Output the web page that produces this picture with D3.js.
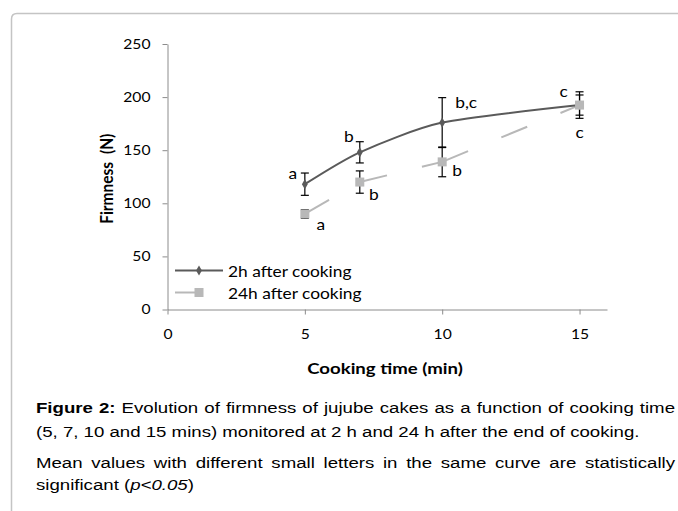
<!DOCTYPE html>
<html>
<head>
<meta charset="utf-8">
<script src="https://cdn.jsdelivr.net/npm/d3@7"></script>
<style>
  body { margin: 0; background: #fff; }
  svg { display: block; }
  .tick text { font-family: Lato, "Open Sans", sans-serif; font-size: 14px; fill: #000; }
  .lbl { font-family: Lato, "Open Sans", sans-serif; font-size: 15.5px; fill: #000; }
  .cap { font-family: "Liberation Sans", Arial, sans-serif; font-size: 14px; fill: #000; }
</style>
</head>
<body>
<script>
var times = [5, 7, 10, 15];
var firm2h = [118, 148, 176, 192.5];
var err2h = [10.5, 10, 23.5, 12.5];
var firm24h = [90, 120, 139, 192.5];
var err24h = [4, 10.5, 14, 9.5];
var letters2h = ["a", "b", "b,c", "c"];
var letters24h = ["a", "b", "b", "c"];
var xTicks = [0, 5, 10, 15];
var yTicks = [0, 50, 100, 150, 200, 250];
var seriesNames = ["2h after cooking", "24h after cooking"];

var width = 678,
    height = 511,
    sx = 1.12; // the chart text in the figure is a little stretched sideways

var svg = d3.select("body").append("svg")
    .attr("width", width)
    .attr("height", height);

// move x/y into a transform so that the glyphs can be widened in place
function stretch(sel, k) {
  sel.each(function() {
    var t = d3.select(this);
    var tx = +t.attr("x") || 0, ty = +t.attr("y") || 0;
    var rot = t.attr("data-rot");
    t.attr("x", 0).attr("y", 0)
      .attr("transform", "translate(" + tx + "," + ty + ")" + (rot ? " rotate(" + rot + ")" : "") +
            (rot ? " scale(1," + (k || sx) + ")" : " scale(" + (k || sx) + ",1)"));
  });
}

// frame, cut off on the right and at the bottom
svg.append("path")
    .attr("d", "M11.5,520 V19 Q11.5,13.5 17,13.5 H690")
    .attr("fill", "none")
    .attr("stroke", "#c4c4c4")
    .attr("stroke-width", 1.5);

var x = d3.scaleLinear().domain([0, 16]).range([167.5, 607]);
var y = d3.scaleLinear().domain([0, 250]).range([309.5, 44]);

var xAxis = svg.append("g")
    .attr("transform", "translate(0," + y(0) + ")")
    .call(d3.axisBottom(x).tickValues(xTicks).tickSize(5).tickPadding(15).tickSizeOuter(0));
var yAxis = svg.append("g")
    .attr("transform", "translate(" + x(0) + ",0)")
    .call(d3.axisLeft(y).tickValues(yTicks).tickSize(5).tickPadding(12).tickSizeOuter(0));
svg.selectAll(".domain, .tick line").attr("stroke", "#8c8c8c");
stretch(svg.selectAll(".tick text"));

svg.append("text")
    .attr("class", "lbl")
    .attr("x", 113)
    .attr("y", (y(0) + y(250)) / 2 + 2)
    .attr("data-rot", -90)
    .attr("text-anchor", "middle")
    .attr("word-spacing", 4)
    .style("font-weight", "bold")
    .text("Firmness (N)");

var pts2h = times.map(function(t, i) { return {t: t, v: firm2h[i], e: err2h[i], l: letters2h[i]}; });
var pts24h = times.map(function(t, i) { return {t: t, v: firm24h[i], e: err24h[i], l: letters24h[i]}; });

var c2h = "#5a5a5a", c24h = "#b8b8b8";

// 24h: straight segments, dash pattern restarting at each point
svg.append("g").selectAll("line")
    .data(d3.pairs(pts24h))
  .enter().append("line")
    .attr("x1", function(d) { return x(d[0].t); })
    .attr("y1", function(d) { return y(d[0].v); })
    .attr("x2", function(d) { return x(d[1].t); })
    .attr("y2", function(d) { return y(d[1].v); })
    .attr("stroke", c24h)
    .attr("stroke-width", 2)
    .attr("stroke-dasharray", "28,36");

// 2h: smoothed line
svg.append("path")
    .datum(pts2h)
    .attr("fill", "none")
    .attr("stroke", c2h)
    .attr("stroke-width", 2)
    .attr("d", d3.line()
        .x(function(d) { return x(d.t); })
        .y(function(d) { return y(d.v); })
        .curve(d3.curveCardinal.tension(0.3)));

// error bars
function errorBars(data) {
  var g = svg.append("g").attr("stroke", "#000").attr("stroke-width", 1.2);
  g.selectAll(".v").data(data).enter().append("line")
      .attr("x1", function(d) { return x(d.t); })
      .attr("x2", function(d) { return x(d.t); })
      .attr("y1", function(d) { return y(d.v - d.e); })
      .attr("y2", function(d) { return y(d.v + d.e); });
  [-1, 1].forEach(function(s) {
    g.selectAll(".c" + s).data(data).enter().append("line")
        .attr("x1", function(d) { return x(d.t) - 4; })
        .attr("x2", function(d) { return x(d.t) + 4; })
        .attr("y1", function(d) { return y(d.v + s * d.e); })
        .attr("y2", function(d) { return y(d.v + s * d.e); });
  });
}
errorBars(pts2h);
errorBars(pts24h);

var diamond = d3.symbol().type(d3.symbolDiamond).size(30);
svg.append("g").selectAll("path")
    .data(pts2h)
  .enter().append("path")
    .attr("transform", function(d) { return "translate(" + x(d.t) + "," + y(d.v) + ")"; })
    .attr("d", diamond)
    .attr("fill", c2h);

svg.append("g").selectAll("rect")
    .data(pts24h)
  .enter().append("rect")
    .attr("x", function(d) { return x(d.t) - 4.5; })
    .attr("y", function(d) { return y(d.v) - 4.5; })
    .attr("width", 9)
    .attr("height", 9)
    .attr("fill", c24h);

// significance letters
var off2h = [[-12, -5], [-11, -10], [13, -15], [-16, -8]];
var off24h = [[16, 16], [14, 18], [15, 14], [0, 33]];
svg.append("g").selectAll("text")
    .data(pts2h)
  .enter().append("text")
    .attr("class", "lbl")
    .attr("x", function(d, i) { return x(d.t) + off2h[i][0]; })
    .attr("y", function(d, i) { return y(d.v) + off2h[i][1]; })
    .attr("text-anchor", function(d, i) { return i === 2 ? "start" : "middle"; })
    .text(function(d) { return d.l; });
svg.append("g").selectAll("text")
    .data(pts24h)
  .enter().append("text")
    .attr("class", "lbl")
    .attr("x", function(d, i) { return x(d.t) + off24h[i][0]; })
    .attr("y", function(d, i) { return y(d.v) + off24h[i][1]; })
    .attr("text-anchor", "middle")
    .text(function(d) { return d.l; });

// legend
var leg = svg.append("g");
leg.append("line").attr("x1", 175).attr("x2", 223).attr("y1", 270.5).attr("y2", 270.5)
    .attr("stroke", c2h).attr("stroke-width", 2);
leg.append("path").attr("transform", "translate(199,270.5)").attr("d", diamond).attr("fill", c2h);
leg.append("line").attr("x1", 175).attr("x2", 223).attr("y1", 292.5).attr("y2", 292.5)
    .attr("stroke", c24h).attr("stroke-width", 2).attr("stroke-dasharray", "28,36");
leg.append("rect").attr("x", 194.5).attr("y", 288).attr("width", 9).attr("height", 9).attr("fill", c24h);
leg.selectAll("text").data(seriesNames).enter().append("text")
    .attr("class", "lbl")
    .attr("x", 228)
    .attr("y", function(d, i) { return 276.5 + i * 22.5; })
    .text(function(d) { return d; });

stretch(svg.selectAll(".lbl"));

var xTitle = svg.append("text")
    .attr("class", "lbl")
    .attr("x", 385)
    .attr("y", 374)
    .attr("text-anchor", "middle")
    .style("font-weight", "bold")
    .text("Cooking time (min)");
stretch(xTitle, 1.2);

// caption
var capX = 36, capRight = 675, line2Width = 604;
var cap = svg.append("g");
var lines = [
  [{t: "Figure 2:", w: "bold"}, {t: " Evolution of firmness of jujube cakes as a function of cooking time"}],
  [{t: "(5, 7, 10 and 15 mins) monitored at 2 h and 24 h after the end of cooking."}],
  [{t: "Mean values with different small letters in the same curve are statistically"}],
  [{t: "significant ("}, {t: "p<0.05", s: "italic"}, {t: ")"}]
];
var baselines = [413.5, 437, 468, 490.5];
var justify = [true, false, true, false];
var texts = lines.map(function(parts, i) {
  var t = cap.append("text").attr("class", "cap").attr("x", 0).attr("y", baselines[i]);
  parts.forEach(function(p) {
    t.append("tspan").text(p.t)
        .style("font-weight", p.w || null)
        .style("font-style", p.s || null);
  });
  return t;
});
var csx = line2Width / texts[1].node().getComputedTextLength();
cap.attr("transform", "translate(" + capX + ",0) scale(" + csx + ",1)");
texts.forEach(function(t, i) {
  if (!justify[i]) return;
  var len = t.node().getComputedTextLength();
  var spaces = t.text().split(" ").length - 1;
  t.attr("word-spacing", ((capRight - capX) / csx - len) / spaces);
});
</script>
</body>
</html>
